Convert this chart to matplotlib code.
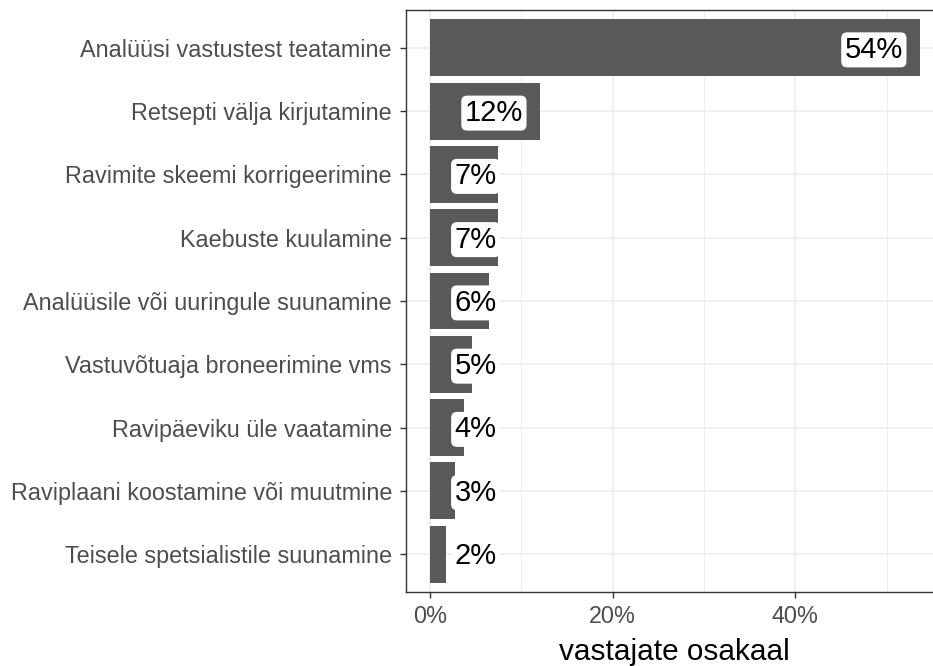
import matplotlib.pyplot as plt
import numpy as np
from matplotlib.ticker import FuncFormatter, MultipleLocator

plt.rcParams['font.family'] = ['Liberation Sans', 'DejaVu Sans']

categories = [
    'Analüüsi vastustest teatamine',
    'Retsepti välja kirjutamine',
    'Ravimite skeemi korrigeerimine',
    'Kaebuste kuulamine',
    'Analüüsile või uuringule suunamine',
    'Vastuvõtuaja broneerimine vms',
    'Ravipäeviku üle vaatamine',
    'Raviplaani koostamine või muutmine',
    'Teisele spetsialistile suunamine',
]
shares = np.array([53.6, 12.0, 7.4, 7.4, 6.5, 4.6, 3.7, 2.7, 1.8])
labels = [f'{round(v)}%' for v in shares]

fig = plt.figure(figsize=(9.33, 6.66), dpi=100)
ax = fig.add_axes([405.5 / 933, 1 - 592 / 666, 538.5 / 933, 582 / 666])

ypos = np.arange(len(categories))
ax.barh(ypos, shares, height=0.9, color='#595959', zorder=2)

# labels sit 5 points left of bar end, but never below 5
label_x = np.maximum(shares - 5, 5)
for y, x, t in zip(ypos, label_x, labels):
    ax.text(x, y + 0.03, t, ha='center', va='center', fontsize=21, color='black', zorder=3,
            bbox=dict(boxstyle='round,pad=0.12,rounding_size=0.2', fc='white', ec='none'))

ax.set_xlim(-0.05 * shares.max(), 1.05 * shares.max())
ax.set_ylim(len(categories) - 0.4, -0.6)
ax.set_yticks(ypos)
ax.set_yticklabels(categories)
ax.xaxis.set_major_locator(MultipleLocator(20))
ax.xaxis.set_minor_locator(MultipleLocator(10))
ax.xaxis.set_major_formatter(FuncFormatter(lambda v, p: f'{v:.0f}%'))

ax.grid(True, which='major', color='#EBEBEB', linewidth=1.1, zorder=0)
ax.grid(True, which='minor', axis='x', color='#EBEBEB', linewidth=0.6, zorder=0)
ax.set_axisbelow(True)

ax.tick_params(axis='both', which='major', length=4.3, width=1.0, color='#333333',
               labelsize=16.8, labelcolor='#4D4D4D', pad=5.5)
ax.tick_params(axis='x', which='major', pad=5)
ax.tick_params(axis='x', which='minor', length=0)
for s in ax.spines.values():
    s.set_color('#333333')
    s.set_linewidth(1.0)

ax.set_xlabel('vastajate osakaal', fontsize=21.4, color='black', labelpad=7)

fig.savefig('out.png', dpi=100)
